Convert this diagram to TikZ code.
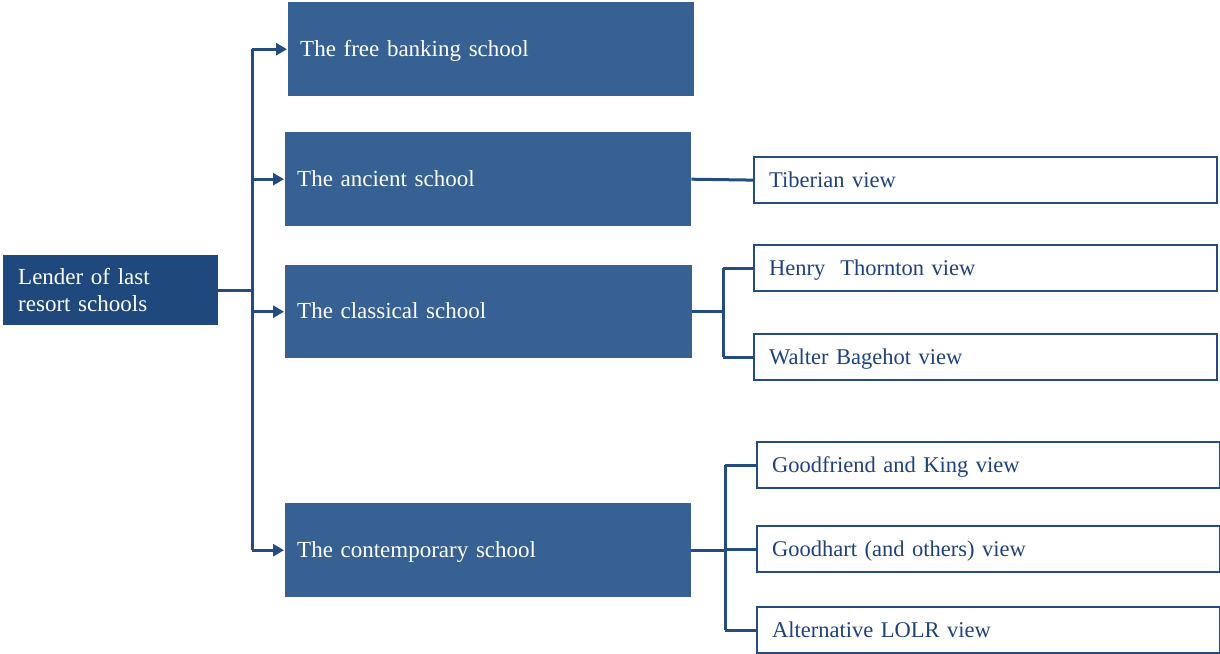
\documentclass[tikz,border=0pt]{standalone}
\usepackage{fontspec}
\setmainfont{Liberation Serif}
\usetikzlibrary{arrows.meta,positioning}
\definecolor{boxblue}{RGB}{56,97,147}
\definecolor{darkblue}{RGB}{31,73,125}
\definecolor{lineblue}{RGB}{36,76,128}
\definecolor{txtblue}{RGB}{31,66,120}
\tikzset{
  school/.style={anchor=north west, fill=boxblue, draw=none, text=white, inner xsep=12pt, inner ysep=0pt,
    minimum height=94pt, align=left, text width=382pt, text depth=2pt, font=\fontsize{23}{27}\selectfont},
  rootbox/.style={anchor=north west, fill=darkblue, draw=none, text=white, inner xsep=15pt, inner ysep=0pt,
    minimum height=70pt, align=left, text width=185pt, font=\fontsize{23}{27}\selectfont},
  viewbox/.style={anchor=north west, fill=white, draw=lineblue, line width=2.2pt, text=txtblue, inner xsep=15pt, inner ysep=0pt,
    minimum height=46pt, align=left, text width=433pt, text depth=1pt, font=\fontsize{22.5}{26}\selectfont},
  conn/.style={draw=lineblue, line width=3pt},
  arr/.style={conn, -{Triangle[length=11pt,width=12pt]}, shorten >=1pt},
}
\begin{document}
\begin{tikzpicture}[x=1pt,y=-1pt]
\useasboundingbox (0,0) rectangle (1220,653);
\node[rootbox] (root) at (3,255) {Lender of last\\resort schools};
\node[school, text width=382pt] (free) at (288,2) {The free banking school};
\node[school] (anc) at (285,132) {The ancient school};
\node[school, minimum height=93pt, text width=383pt] (cla) at (285,265) {The classical school};
\node[school] (con) at (285,503) {The contemporary school};

\node[viewbox] (tib) at (753,156) {Tiberian view};
\node[viewbox] (hen) at (753,244) {Henry~ Thornton view};
\node[viewbox] (wal) at (753,333) {Walter Bagehot view};
\node[viewbox] (goo) at (756,441) {Goodfriend and King view};
\node[viewbox] (gdh) at (756,525) {Goodhart (and others) view};
\node[viewbox] (alt) at (756,606) {Alternative LOLR view};

\coordinate (trunk) at (252,0);
\coordinate (b1) at (723,0);
\coordinate (b2) at (725,0);

\draw[conn] (root.east) -- (root.east -| trunk);
\draw[conn] (trunk |- free.west) -- (trunk |- con.west);
\draw[arr] (trunk |- free.west) -- (free.west);
\draw[arr] (trunk |- anc.west) -- (anc.west);
\draw[arr] (trunk |- cla.west) -- (cla.west);
\draw[arr] (trunk |- con.west) -- (con.west);

\draw[conn] (anc.east) -- (tib.west);

\draw[conn] (cla.east) -- (cla.east -| b1);
\draw[conn] (b1 |- hen.west) -- (b1 |- wal.west);
\draw[conn] (b1 |- hen.west) -- (hen.west);
\draw[conn] (b1 |- wal.west) -- (wal.west);

\draw[conn] (con.east) -- (con.east -| b2);
\draw[conn] (b2 |- goo.west) -- (b2 |- alt.west);
\draw[conn] (b2 |- goo.west) -- (goo.west);
\draw[conn] (b2 |- gdh.west) -- (gdh.west);
\draw[conn] (b2 |- alt.west) -- (alt.west);
\end{tikzpicture}
\end{document}
